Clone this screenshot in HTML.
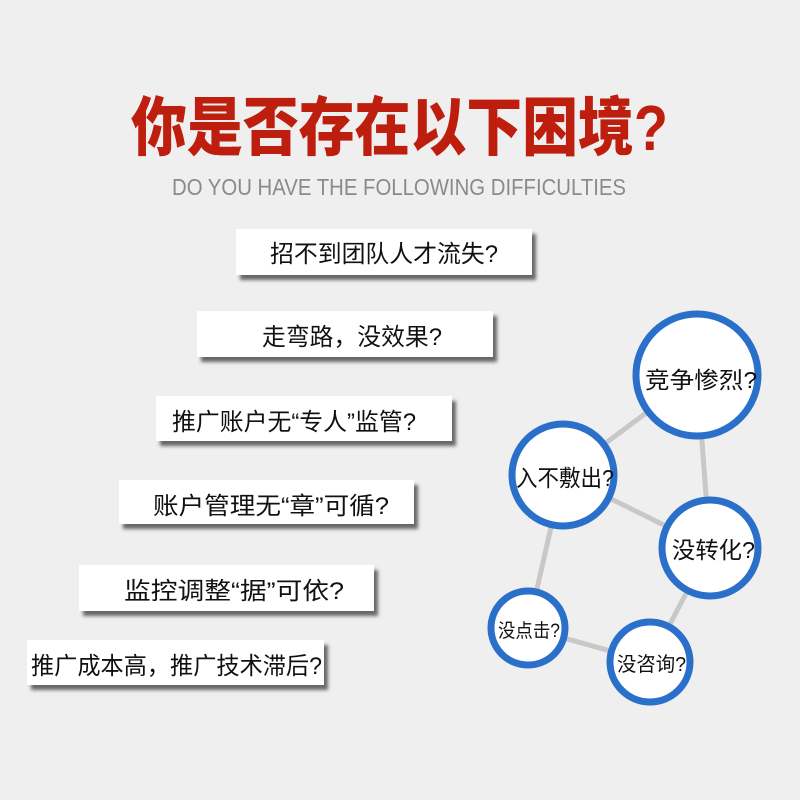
<!DOCTYPE html>
<html><head><meta charset="utf-8"><style>
html,body{margin:0;padding:0;background:#efefef;}
svg{display:block;}
</style></head><body>
<svg width="800" height="800" viewBox="0 0 800 800" xmlns="http://www.w3.org/2000/svg">
<defs>
<filter id="sh" x="-10%" y="-30%" width="130%" height="180%">
<feGaussianBlur stdDeviation="1.8"/>
</filter>
</defs>
<rect width="800" height="800" fill="#efefef"/>
<text x="131" y="150" font-size="64" font-weight="900" fill="#be1e0d" textLength="537" lengthAdjust="spacingAndGlyphs" font-family="Liberation Sans, Noto Sans CJK SC, sans-serif">你是否存在以下困境?</text>
<text x="172" y="195" font-family="Liberation Sans, sans-serif" font-size="23" fill="#8a8a8a" textLength="454" lengthAdjust="spacingAndGlyphs">DO YOU HAVE THE FOLLOWING DIFFICULTIES</text>

<g font-family="Liberation Sans, Noto Sans CJK SC, sans-serif" font-size="24" fill="#111">
<g>
<rect x="240" y="234" width="296" height="46" fill="#666" filter="url(#sh)"/>
<rect x="236" y="229" width="296" height="46" fill="#fff"/>
<text x="270" y="262" textLength="228" lengthAdjust="spacingAndGlyphs">招不到团队人才流失?</text>
</g>
<g>
<rect x="201" y="316" width="296" height="46" fill="#666" filter="url(#sh)"/>
<rect x="197" y="311" width="296" height="46" fill="#fff"/>
<text x="262" y="345" textLength="180" lengthAdjust="spacingAndGlyphs">走弯路，没效果?</text>
</g>
<g>
<rect x="160" y="401" width="296" height="45" fill="#666" filter="url(#sh)"/>
<rect x="156" y="396" width="296" height="45" fill="#fff"/>
<text x="172" y="430" textLength="244" lengthAdjust="spacingAndGlyphs">推广账户无“专人”监管?</text>
</g>
<g>
<rect x="123" y="485" width="295" height="44" fill="#666" filter="url(#sh)"/>
<rect x="119" y="480" width="295" height="44" fill="#fff"/>
<text x="153" y="514" textLength="236" lengthAdjust="spacingAndGlyphs">账户管理无“章”可循?</text>
</g>
<g>
<rect x="83" y="570" width="295" height="46" fill="#666" filter="url(#sh)"/>
<rect x="79" y="565" width="295" height="46" fill="#fff"/>
<text x="124" y="599" textLength="220" lengthAdjust="spacingAndGlyphs">监控调整“据”可依?</text>
</g>
<g>
<rect x="31" y="645" width="297" height="45" fill="#666" filter="url(#sh)"/>
<rect x="27" y="640" width="297" height="45" fill="#fff"/>
<text x="31" y="674" textLength="291" lengthAdjust="spacingAndGlyphs">推广成本高，推广技术滞后?</text>
</g>
</g>

<g stroke="#c8c8c8" stroke-width="5" fill="none">
<line x1="697" y1="375" x2="563" y2="475"/>
<line x1="697" y1="375" x2="710" y2="548"/>
<line x1="563" y1="475" x2="710" y2="548"/>
<line x1="563" y1="475" x2="528" y2="628"/>
<line x1="528" y1="628" x2="650" y2="662"/>
<line x1="650" y1="662" x2="710" y2="548"/>
</g>
<g fill="#fff" stroke="#2a6fc9" stroke-width="7">
<circle cx="697" cy="375" r="61"/>
<circle cx="563" cy="475" r="51"/>
<circle cx="710" cy="548" r="48"/>
<circle cx="528" cy="628" r="37"/>
<circle cx="650" cy="662" r="40"/>
</g>
<g font-family="Liberation Sans, Noto Sans CJK SC, sans-serif" fill="#111">
<text x="645" y="388" font-size="23" textLength="112" lengthAdjust="spacingAndGlyphs">竞争惨烈?</text>
<text x="516" y="486" font-size="23" textLength="98" lengthAdjust="spacingAndGlyphs">入不敷出?</text>
<text x="672" y="558" font-size="23" textLength="83" lengthAdjust="spacingAndGlyphs">没转化?</text>
<text x="498" y="637" font-size="19" textLength="62" lengthAdjust="spacingAndGlyphs">没点击?</text>
<text x="617" y="671" font-size="20" textLength="69" lengthAdjust="spacingAndGlyphs">没咨询?</text>
</g>
</svg>
</body></html>
